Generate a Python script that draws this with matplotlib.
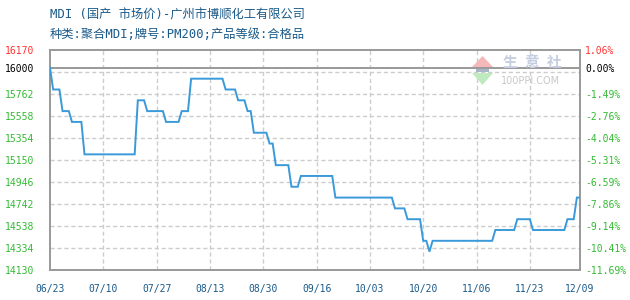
import matplotlib
matplotlib.use("Agg")
import matplotlib.pyplot as plt
from matplotlib.patches import Polygon

# ---- data (day offset from 06/23, price) ----
days = [0, 1, 3, 4, 6, 7, 10, 11, 27, 28, 30, 31, 36, 37, 41, 42, 44, 45, 55,
        56, 59, 60, 62, 63, 64, 65, 69, 70, 71, 72, 76, 77, 79, 80, 90, 91, 109,
        110, 113, 114, 118, 119, 120, 121, 122, 141, 142, 148, 149, 153, 154,
        164, 165, 167, 168, 169]
prices = [16000, 15800, 15800, 15600, 15600, 15500, 15500, 15200, 15200, 15700,
          15700, 15600, 15600, 15500, 15500, 15600, 15600, 15900, 15900,
          15800, 15800, 15700, 15700, 15600, 15600, 15400, 15400, 15300, 15300,
          15100, 15100, 14900, 14900, 15000, 15000, 14800, 14800,
          14700, 14700, 14600, 14600, 14400, 14400, 14300, 14400, 14400, 14500,
          14500, 14600, 14600, 14500, 14500, 14600, 14600, 14800, 14800]

base_price = 16000
x_tick_days = [0, 17, 34, 51, 68, 85, 102, 119, 136, 153, 169]
x_tick_labels = ["06/23", "07/10", "07/27", "08/13", "08/30", "09/16",
                 "10/03", "10/20", "11/06", "11/23", "12/09"]
y_grid = [15966, 15762, 15558, 15354, 15150, 14946, 14742, 14538, 14334]
y_left_ticks = [16170, 16000, 15762, 15558, 15354, 15150, 14946, 14742,
                14538, 14334, 14130]
y_left_labels = ["16170", "16000", "15762", "15558", "15354", "15150",
                 "14946", "14742", "14538", "14334", "14130"]
y_right_labels = ["1.06%", "0.00%", "-1.49%", "-2.76%", "-4.04%", "-5.31%",
                  "-6.59%", "-7.86%", "-9.14%", "-10.41%", "-11.69%"]
title1 = "MDI (国产 市场价)-广州市博顺化工有限公司"
title2 = "种类:聚合MDI;牌号:PM200;产品等级:合格品"

RED = "#ff3333"
GREEN = "#33bb33"
BLUE_TXT = "#1a5a8a"
LINE = "#3a9ad9"
BORDER = "#999999"
GRID = "#cccccc"
MONO = "DejaVu Sans Mono"

fig = plt.figure(figsize=(6.3, 3.0), dpi=100)
fig.patch.set_facecolor("white")
ax = fig.add_axes([50 / 630, 30 / 300, 530 / 630, 220.5 / 300])
ax.set_xlim(0, 169)
ax.set_ylim(14130, 16170)

# grid
for xv in x_tick_days[1:-1]:
    ax.axvline(xv, color=GRID, lw=1.0, ls=(0, (3, 2)), zorder=1)
for yv in y_grid:
    ax.axhline(yv, color=GRID, lw=1.0, ls=(0, (3, 2)), zorder=1)
ax.axhline(base_price, color=BORDER, lw=1.4, zorder=2)

# watermark (100ppi logo)
wm = fig.add_axes([0, 0, 1, 1], facecolor="none")
wm.set_xlim(0, 630)
wm.set_ylim(300, 0)
wm.axis("off")
wm.add_patch(Polygon([[472, 67], [482.5, 56], [493, 67]], closed=True,
                     color="#f4b8b8", lw=0, zorder=0))
wm.add_patch(Polygon([[472, 73], [482.5, 85], [493, 73]], closed=True,
                     color="#bfe9bf", lw=0, zorder=0))
wm.add_patch(Polygon([[476, 68.5], [489, 68.5], [489, 72], [476, 72]],
                     closed=True, color="#a8b4c8", lw=0, zorder=0))
for i, ch in enumerate("生意社"):
    wm.text(510 + i * 22, 62, ch, fontsize=10.5, color="#c5cde0",
            family="Noto Sans CJK SC", fontweight="bold",
            ha="center", va="center", zorder=0)
wm.text(531, 81, "100PPI.COM", fontsize=7, color="#c8c8c8",
        family="DejaVu Sans", ha="center", va="center", zorder=0)

# data line
ax.plot(days, prices, color=LINE, lw=1.4, zorder=3, solid_joinstyle="miter")

for s in ax.spines.values():
    s.set_color(BORDER)
    s.set_linewidth(1.4)

# ticks
ax.set_xticks(x_tick_days)
ax.set_xticklabels(x_tick_labels, family=MONO, fontsize=7, color=BLUE_TXT)
ax.tick_params(axis="x", length=0, pad=10)
ax.set_yticks(y_left_ticks)
ax.set_yticklabels(y_left_labels, family=MONO, fontsize=7)
ax.tick_params(axis="y", length=0, pad=11.5)
for i, t in enumerate(ax.get_yticklabels()):
    t.set_color(RED if i == 0 else ("black" if i == 1 else GREEN))

ax2 = ax.twinx()
ax2.set_ylim(ax.get_ylim())
ax2.set_yticks(y_left_ticks)
ax2.set_yticklabels(y_right_labels, family=MONO, fontsize=7)
ax2.tick_params(axis="y", length=0, pad=3.6)
for i, t in enumerate(ax2.get_yticklabels()):
    t.set_color(RED if i == 0 else ("black" if i == 1 else GREEN))
for s in ax2.spines.values():
    s.set_visible(False)

# titles
tfam = [MONO, "Noto Sans CJK SC"]
fig.text(50 / 630, 1 - 15 / 300, title1, family=tfam,
         fontsize=8.8, color=BLUE_TXT, ha="left", va="center")
fig.text(50 / 630, 1 - 35 / 300, title2, family=tfam,
         fontsize=8.8, color=BLUE_TXT, ha="left", va="center")

fig.savefig("out.png", dpi=100, facecolor="white")
